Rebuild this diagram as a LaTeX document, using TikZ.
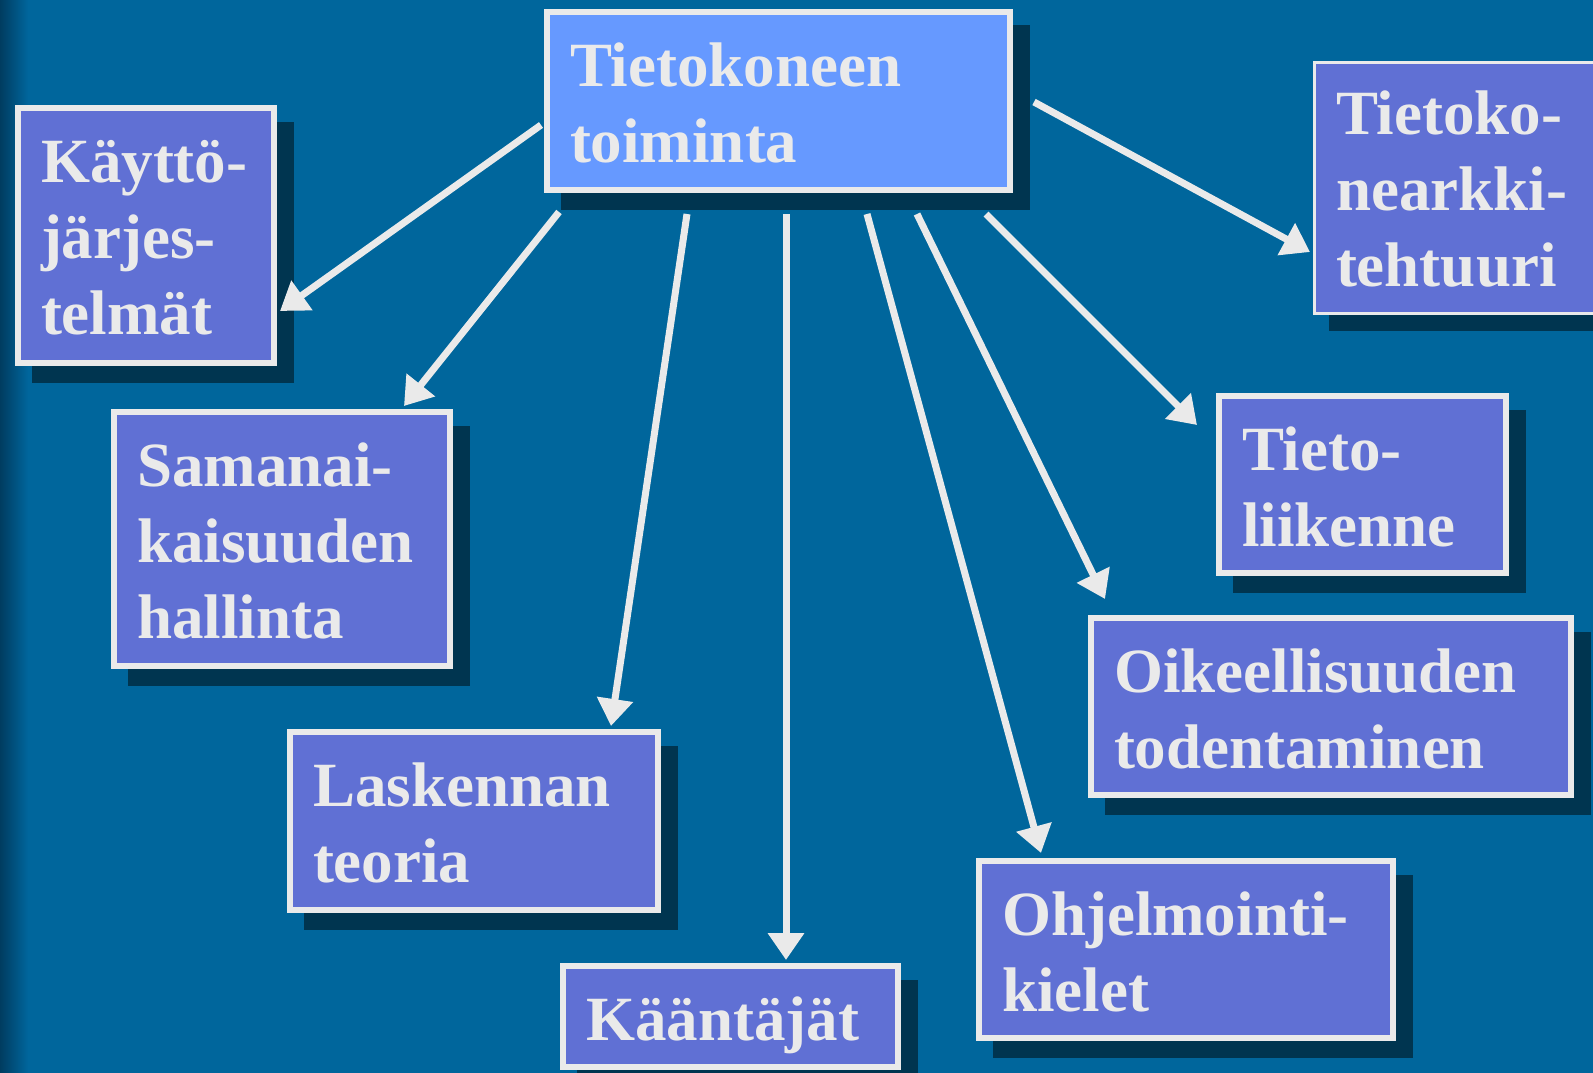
\documentclass[tikz,border=0pt]{standalone}
\usepackage{fontspec}
\setmainfont{Liberation Serif}
\usetikzlibrary{arrows.meta,shadows}
\definecolor{slidebg}{RGB}{0,102,156}
\definecolor{slidedark}{RGB}{0,60,96}
\definecolor{boxfill}{RGB}{96,112,212}
\definecolor{mainfill}{RGB}{102,153,255}
\definecolor{boxshadow}{RGB}{0,53,80}
\definecolor{boxtext}{RGB}{234,234,234}
\begin{document}
\begin{tikzpicture}[x=1pt,y=-1pt]
\tikzstyle{topic} = [rectangle, anchor=north west, draw=boxtext, line width=6pt, fill=boxfill, text=boxtext, inner xsep=23pt, inner ysep=0pt, text height=74pt, align=left, font=\fontsize{63}{76}\selectfont\bfseries, drop shadow={shadow xshift=16.5pt, shadow yshift=-16.5pt, opacity=1, fill=boxshadow, draw=boxshadow}]
\tikzstyle{link} = [draw=boxtext, line width=7pt, -{Triangle[length=27pt,width=35pt]}]
\useasboundingbox (0,0) rectangle (1593,1073);
\clip (0,0) rectangle (1593,1073);
\fill[slidebg] (0,0) rectangle (1593,1073);
\shade[left color=slidedark, right color=slidebg] (0,0) rectangle (28,1073);
\node (TT) [topic, fill=mainfill, text width=417pt, text depth=104pt] at (544,9) {Tietokoneen\\toiminta};
\node (KJ) [topic, text width=210pt, text depth=181pt] at (15,105) {Käyttö-\\järjes-\\telmät};
\node (SH) [topic, text width=290pt, text depth=180pt] at (111,409) {Samanai-\\kaisuuden\\hallinta};
\node (LT) [topic, text width=322pt, text depth=104pt] at (287,729) {Laskennan\\teoria};
\node (KA) [topic, text width=289pt, text depth=27pt] at (560,963) {Kääntäjät};
\node (OK) [topic, text width=368pt, text depth=103pt] at (976,858) {Ohjelmointi-\\kielet};
\node (OT) [topic, text width=434pt, text depth=103pt] at (1088,615) {Oikeellisuuden\\todentaminen};
\node (TL) [topic, text width=241pt, text depth=103pt] at (1216,393) {Tieto-\\liikenne};
\node (TA) [topic, line width=3pt, inner xsep=22pt, text width=253.5pt, text height=71.5pt, text depth=178.5pt] at (1312.5,61.5) {Tietoko-\\nearkki-\\tehtuuri};
\draw [link] ([shift={(-3,24)}]TT.west) -- ([shift={(3,75.5)}]KJ.east);
\draw [link] ([shift={(15,19)}]TT.south west) -- ([shift={(122,-3)}]SH.north);
\draw [link] ([shift={(143,21)}]TT.south west) -- ([shift={(137,-3)}]LT.north);
\draw [link] ([shift={(7.5,21)}]TT.south) -- ([shift={(55.5,-3)}]KA.north);
\draw [link] ([shift={(88.5,21)}]TT.south) -- ([shift={(-145,-5)}]OK.north);
\draw [link] ([shift={(138.5,21)}]TT.south) -- ([shift={(-226,-16)}]OT.north);
\draw [link] ([shift={(-27,21)}]TT.south east) -- ([shift={(-19,-59.5)}]TL.west);
\draw [link] ([shift={(21,1)}]TT.east) -- ([shift={(-2.5,64)}]TA.west);
\end{tikzpicture}
\end{document}
